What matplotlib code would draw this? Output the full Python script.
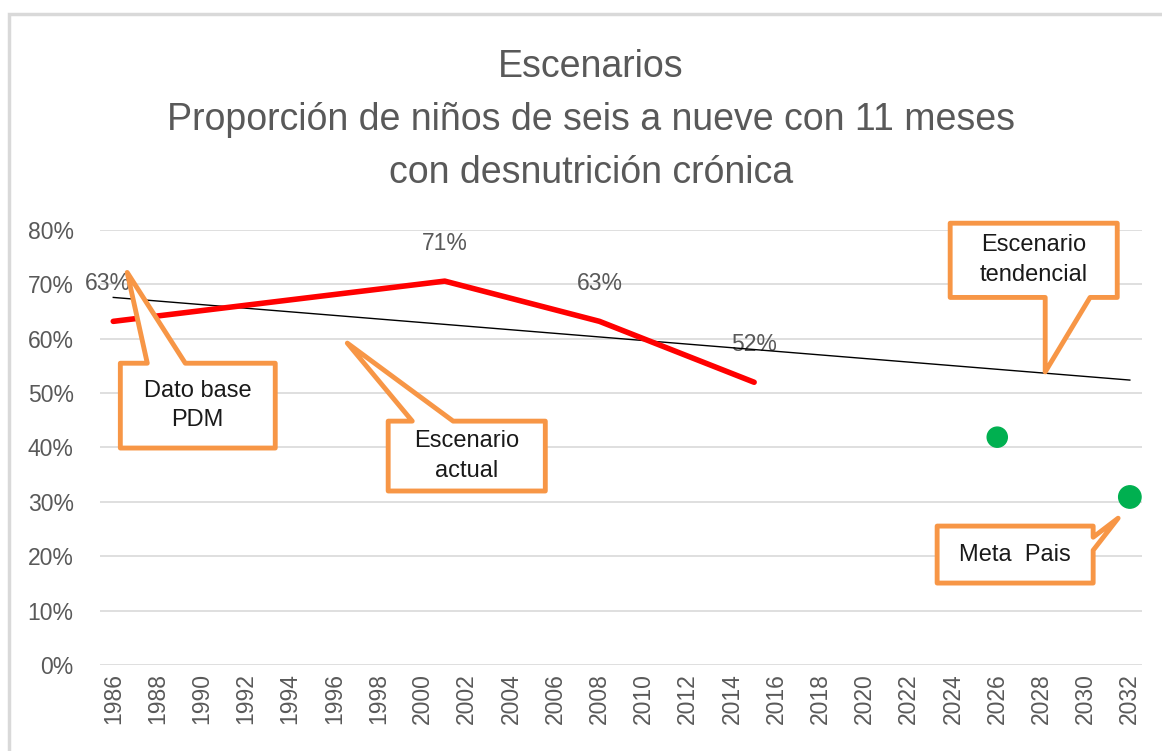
#!/usr/bin/env python3
# -*- coding: utf-8 -*-
"""Escenarios - desnutrición crónica"""

import matplotlib
matplotlib.use('Agg')
import matplotlib.pyplot as plt
from matplotlib.patches import Polygon, Rectangle
from matplotlib.ticker import PercentFormatter

plt.rcParams['font.family'] = ['Liberation Sans', 'DejaVu Sans']

# datos
anios_actual = [1986, 2001, 2008, 2015]
valores_actual = [0.632, 0.706, 0.632, 0.52]
etiquetas_actual = ['63%', '71%', '63%', '52%']

anios_tendencia = [1986, 2032]
valores_tendencia = [0.676, 0.524]

anios_meta = [2026, 2032]
valores_meta = [0.419, 0.309]

anios_ticks = list(range(1986, 2033, 2))

titulo = ('Escenarios\nProporción de niños de seis a nueve con 11 meses\n'
          'con desnutrición crónica')

# llamadas: (texto, caja x0, x1, y0, y1, punta, base de la cuña)
llamadas = [
    ('Dato base\nPDM', (1986.32, 1993.33, 39.9, 55.5), (1986.63, 72.2),
     'top', (1987.54, 1989.26)),
    ('Escenario\nactual', (1998.44, 2005.55, 32.0, 44.85), (1996.59, 59.2),
     'top', (1999.53, 2001.38)),
    ('Escenario\ntendencial', (2023.87, 2031.43, 67.6, 81.25), (2028.17, 53.9),
     'bottom', (2028.17, 2030.2)),
    ('Meta  Pais', (2023.28, 2030.34, 15.07, 25.55), (2031.47, 27.0),
     'right', (23.5, 21.1)),
]

naranja = '#F79646'
gris = '#595959'

fig = plt.figure(figsize=(11.62, 7.51), dpi=100)
ax = fig.add_axes([100 / 1162, 1 - 665 / 751, (1142 - 100) / 1162, (665 - 230) / 751])

# marco del gráfico
fig.patches.append(Rectangle((9 / 1162, -0.05), 1.2, 1 - 13.5 / 751 + 0.05,
                             transform=fig.transFigure, fill=False,
                             edgecolor='#d9d9d9', linewidth=2.5))

ax.plot(anios_tendencia, valores_tendencia, color='black', linewidth=1, zorder=3)
ax.plot(anios_actual, valores_actual, color='#FF0000', linewidth=4,
        solid_capstyle='round', solid_joinstyle='round', zorder=4)
ax.scatter(anios_meta, valores_meta, s=[210, 260], color='#00B050', zorder=4)

for x, y, t in zip(anios_actual, valores_actual, etiquetas_actual):
    ax.annotate(t, (x, y), xytext=(-4 if x == 1986 else 0, 27),
                textcoords='offset points', ha='center', va='center',
                fontsize=16.5, color=gris, zorder=2)

# llamadas con cuña
for texto, (x0, x1, y0, y1), punta, lado, base in llamadas:
    y0, y1 = y0 / 100, y1 / 100
    pt = (punta[0], punta[1] / 100)
    if lado == 'top':
        pts = [(x0, y0), (x0, y1), (base[0], y1), pt, (base[1], y1), (x1, y1), (x1, y0)]
    elif lado == 'bottom':
        pts = [(x0, y0), (x0, y1), (x1, y1), (x1, y0), (base[1], y0), pt, (base[0], y0)]
    else:
        pts = [(x0, y0), (x0, y1), (x1, y1), (x1, base[0] / 100), pt,
               (x1, base[1] / 100), (x1, y0)]
    ax.add_patch(Polygon(pts, closed=True, facecolor='white', edgecolor=naranja,
                         linewidth=3.5, joinstyle='round', zorder=5, clip_on=False))
    ax.text((x0 + x1) / 2, (y0 + y1) / 2, texto, ha='center', va='center',
            fontsize=17, color='#1a1a1a', linespacing=1.45, zorder=6,
            family=['Liberation Sans Narrow', 'Liberation Sans'])

ax.set_xlim(1985.4, 2032.55)
ax.set_ylim(0, 0.8)
ax.set_yticks([i / 10 for i in range(9)])
ax.yaxis.set_major_formatter(PercentFormatter(1.0, decimals=0))
ax.set_xticks(anios_ticks)
ax.set_xticklabels([str(a) for a in anios_ticks], rotation=90)
ax.tick_params(axis='both', length=0, colors=gris, labelsize=16.5)
ax.tick_params(axis='y', pad=19)
ax.tick_params(axis='x', pad=6)
ax.grid(axis='y', color='#d9d9d9', linewidth=1.2)
ax.set_axisbelow(True)
for s in ax.spines.values():
    s.set_visible(False)

fig.text(591 / 1162, 1 - 120 / 751, titulo, ha='center', va='center',
         fontsize=27, color=gris, linespacing=1.6)

plt.savefig('out.png', dpi=100)
plt.close()
